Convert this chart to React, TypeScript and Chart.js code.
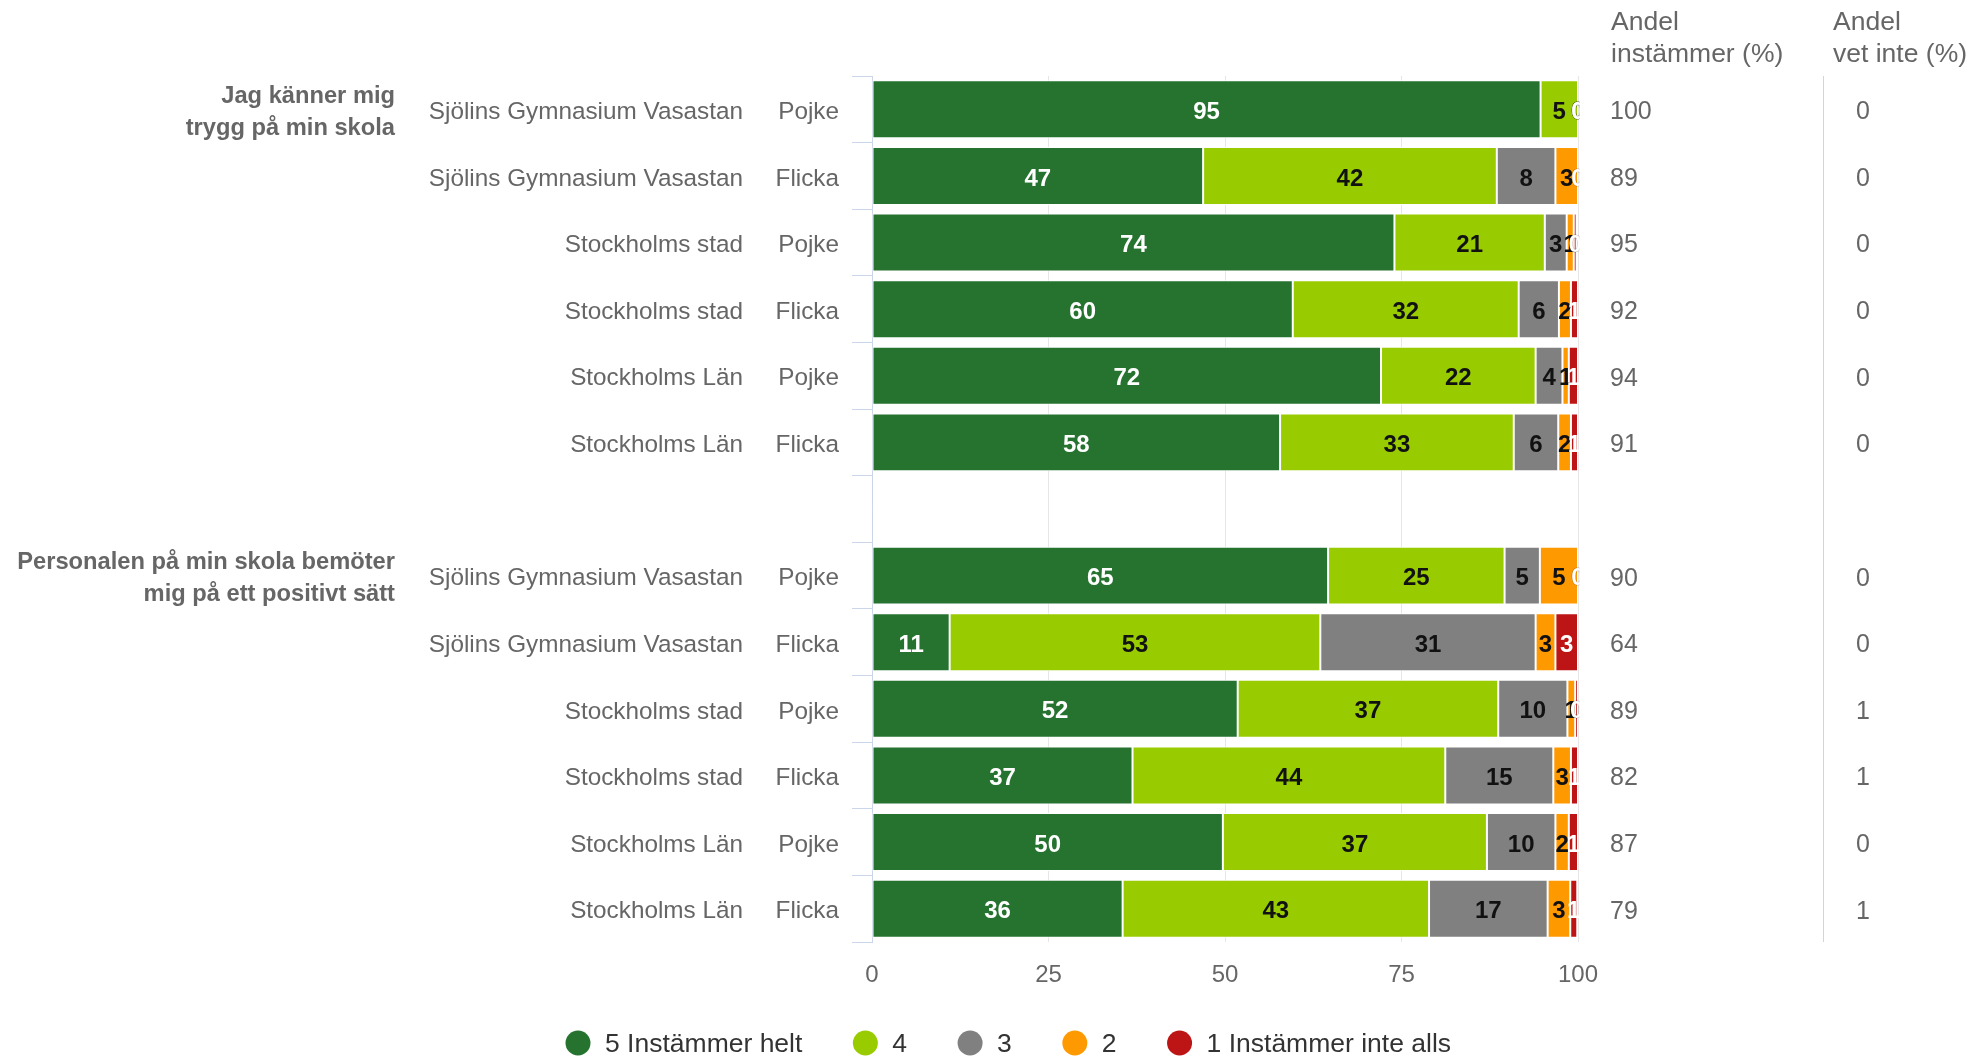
import React, { useEffect, useRef } from 'react';
import { Chart, registerables } from 'chart.js';

Chart.register(...registerables);

// ---------- data ----------
const schools = [
  'Sjölins Gymnasium Vasastan', 'Sjölins Gymnasium Vasastan', 'Stockholms stad', 'Stockholms stad', 'Stockholms Län', 'Stockholms Län',
  '',
  'Sjölins Gymnasium Vasastan', 'Sjölins Gymnasium Vasastan', 'Stockholms stad', 'Stockholms stad', 'Stockholms Län', 'Stockholms Län',
];
const genders = ['Pojke', 'Flicka', 'Pojke', 'Flicka', 'Pojke', 'Flicka', '', 'Pojke', 'Flicka', 'Pojke', 'Flicka', 'Pojke', 'Flicka'];
const questions = ['Jag känner mig\ntrygg på min skola', 'Personalen på min skola bemöter\nmig på ett positivt sätt'];
const questionRows = [0, 7];

const seriesNames = ['5 Instämmer helt', '4', '3', '2', '1 Instämmer inte alls'];
const s5 = [94.7, 46.9, 74.0, 59.6, 72.1, 57.8, null, 64.6, 11.0, 51.8, 36.9, 49.7, 35.5];
const s4 = [5.3, 41.6, 21.3, 32.0, 21.9, 33.1, null, 25.0, 52.5, 36.9, 44.3, 37.4, 43.4];
const s3 = [0, 8.3, 3.1, 5.7, 3.8, 6.3, null, 5.0, 30.5, 9.8, 15.3, 9.7, 16.8];
const s2 = [0, 3.2, 1.0, 1.7, 0.9, 1.8, null, 5.4, 2.8, 1.1, 2.5, 1.9, 3.2];
const s1 = [0, 0, 0.4, 1.0, 1.3, 1.0, null, 0, 3.2, 0.4, 1.0, 1.3, 1.0];

const andelInstammer = [100, 89, 95, 92, 94, 91, null, 90, 64, 89, 82, 87, 79];
const andelVetInte = [0, 0, 0, 0, 0, 0, null, 0, 0, 1, 1, 0, 1];

const xTicks = [0, 25, 50, 75, 100];
const headerInstammer = ['Andel', 'instämmer (%)'];
const headerVetInte = ['Andel', 'vet inte (%)'];

// ---------- styles ----------
const seriesColors = ['#267330', '#99cc00', '#808080', '#ff9900', '#bd1515'];
const labelColors = ['#ffffff', '#111111', '#111111', '#111111', '#ffffff'];
const FONT = '"Liberation Sans", Arial, Helvetica, sans-serif';

const textPlugin = {
  id: 'textPlugin',
  afterDatasetsDraw(chart: any) {
    const ctx: CanvasRenderingContext2D = chart.ctx;
    const area = chart.chartArea;
    const yScale = chart.scales.y;
    const xScale = chart.scales.x;

    // data labels
    ctx.save();
    ctx.beginPath();
    ctx.rect(area.left, area.top - 10, area.right - area.left + 1.5, area.bottom - area.top + 20);
    ctx.clip();
    ctx.font = `bold 24px ${FONT}`;
    ctx.textAlign = 'center';
    ctx.textBaseline = 'middle';
    chart.data.datasets.forEach((ds: any, di: number) => {
      const meta = chart.getDatasetMeta(di);
      meta.data.forEach((el: any, i: number) => {
        const v = ds.data[i];
        if (v === null || v === undefined) return;
        const p = el.getProps(['x', 'base', 'y'], true);
        const cx = (p.x + p.base) / 2;
        const r = Math.round(v);
        const txt = String(r);
        const ty = p.y + 3;
        if (r === 0) {
          ctx.lineWidth = 1;
          ctx.strokeStyle = 'rgba(0,0,0,0.3)';
          ctx.strokeText(txt, cx, ty);
          ctx.fillStyle = '#ffffff';
          ctx.fillText(txt, cx, ty);
        } else {
          ctx.fillStyle = labelColors[di];
          ctx.fillText(txt, cx, ty);
        }
      });
    });
    ctx.restore();

    ctx.save();
    // category labels
    ctx.textBaseline = 'middle';
    ctx.fillStyle = '#666666';
    ctx.font = `24.3px ${FONT}`;
    ctx.textAlign = 'right';
    schools.forEach((s, i) => {
      if (!s) return;
      const y = yScale.getPixelForValue(i);
      ctx.fillText(s, 743, y + 3);
      ctx.fillText(genders[i], 839, y + 3);
    });

    // question labels
    ctx.font = `bold 23.7px ${FONT}`;
    questions.forEach((q, qi) => {
      const y = yScale.getPixelForValue(questionRows[qi]) + 3;
      const lines = q.split('\n');
      lines.forEach((ln, li) => {
        ctx.fillText(ln, 395, y - 16 + li * 32);
      });
    });

    // x tick labels
    ctx.font = `24px ${FONT}`;
    ctx.textAlign = 'center';
    xTicks.forEach((t) => {
      ctx.fillText(String(t), xScale.getPixelForValue(t), 975);
    });

    // right columns
    ctx.textAlign = 'left';
    ctx.font = `25px ${FONT}`;
    andelInstammer.forEach((v, i) => {
      if (v === null) return;
      const y = yScale.getPixelForValue(i);
      ctx.fillText(String(v), 1610, y + 3);
    });
    andelVetInte.forEach((v, i) => {
      if (v === null) return;
      const y = yScale.getPixelForValue(i);
      ctx.fillText(String(v), 1856, y + 3);
    });

    ctx.font = `26.5px ${FONT}`;
    headerInstammer.forEach((h, i) => ctx.fillText(h, 1611, 23 + i * 32));
    headerVetInte.forEach((h, i) => ctx.fillText(h, 1833, 23 + i * 32));

    // separator line
    ctx.strokeStyle = '#ccd6eb';
    ctx.lineWidth = 1;
    ctx.beginPath();
    ctx.moveTo(1823.5, area.top);
    ctx.lineTo(1823.5, area.bottom);
    ctx.stroke();

    // legend
    ctx.font = `26.5px ${FONT}`;
    ctx.textAlign = 'left';
    let cx = 578;
    const ly = 1043;
    seriesNames.forEach((name, i) => {
      ctx.fillStyle = seriesColors[i];
      ctx.beginPath();
      ctx.arc(cx, ly, 12.5, 0, Math.PI * 2);
      ctx.fill();
      ctx.fillStyle = '#333333';
      const tx = cx + 27;
      ctx.fillText(name, tx, ly + 2);
      const w = ctx.measureText(name).width;
      cx = tx + w + 50.5 + 12.5;
    });
    ctx.restore();
  },
};

export default function App() {
  const ref = useRef<HTMLCanvasElement>(null);
  useEffect(() => {
    const series = [s5, s4, s3, s2, s1];
    const chart = new Chart(ref.current as HTMLCanvasElement, {
      type: 'bar',
      data: {
        labels: schools.map((s, i) => (s ? `${s} ${genders[i]}` : '')),
        datasets: series.map((d, i) => ({
          label: seriesNames[i],
          data: d as any,
          backgroundColor: seriesColors[i],
          borderColor: '#ffffff',
          borderWidth: 1,
          borderSkipped: false,
          barPercentage: 0.87,
          categoryPercentage: 1,
        })),
      },
      options: {
        indexAxis: 'y',
        animation: false,
        responsive: false,
        devicePixelRatio: 1,
        layout: { padding: { left: 852, right: 395, top: 76, bottom: 117 } },
        plugins: { legend: { display: false }, tooltip: { enabled: false }, title: { display: false } },
        scales: {
          x: {
            type: 'linear',
            stacked: true,
            min: 0,
            max: 100,
            ticks: { display: false, stepSize: 25 },
            grid: { color: '#e6e6e6', drawTicks: false, lineWidth: 1 },
            border: { display: false },
          },
          y: {
            type: 'category',
            stacked: true,
            ticks: { display: false },
            grid: { color: '#ccd6eb', drawOnChartArea: false, drawTicks: true, tickLength: 20, offset: true },
            border: { display: true, color: '#ccd6eb' },
          },
        },
      } as any,
      plugins: [textPlugin],
    });
    return () => chart.destroy();
  }, []);
  return (
    <div style={{ position: 'absolute', left: 0, top: 0, width: 1973, height: 1059, background: '#ffffff' }}>
      <canvas ref={ref} width={1973} height={1059} style={{ width: 1973, height: 1059, display: 'block' }} />
    </div>
  );
}
